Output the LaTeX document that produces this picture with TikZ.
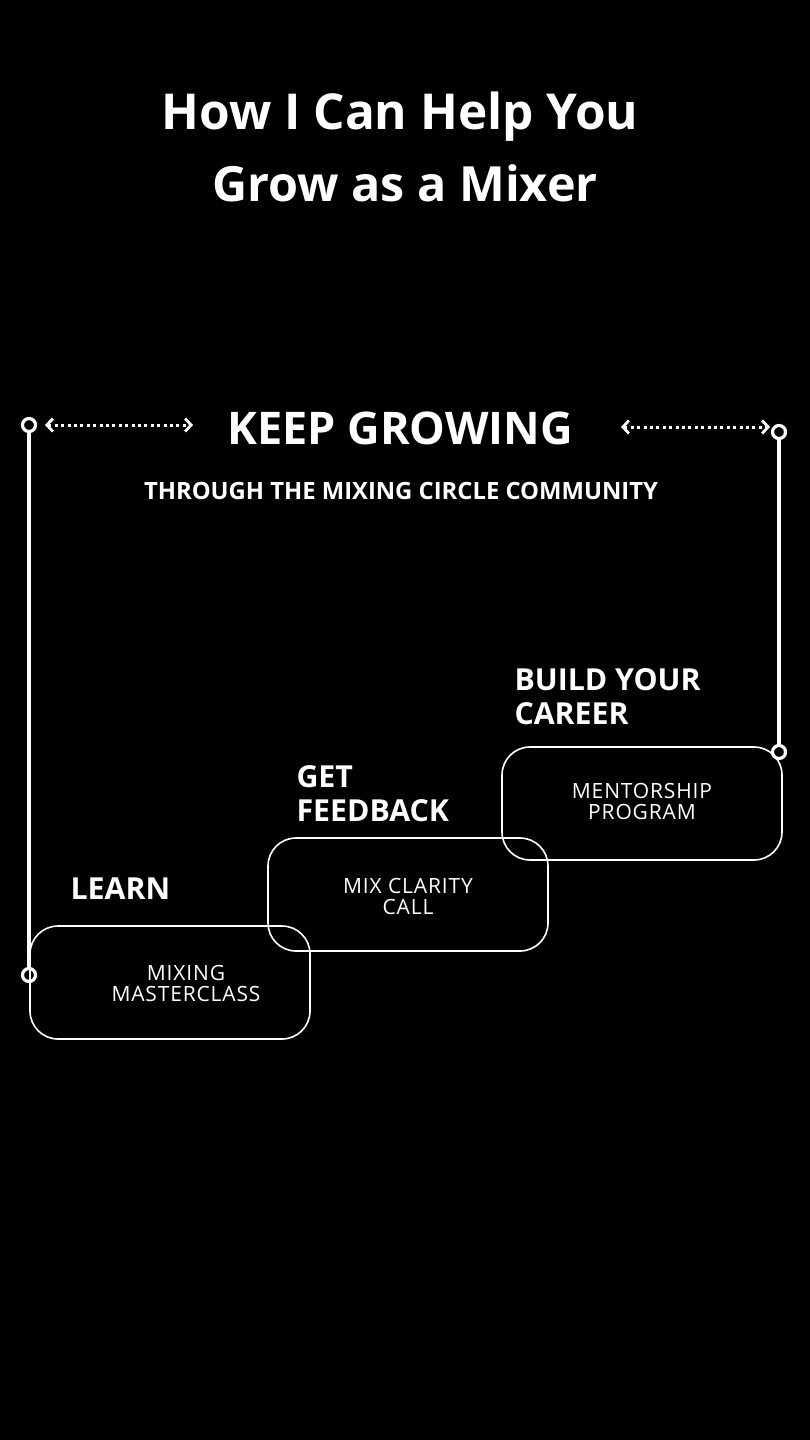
\documentclass[tikz,border=0pt]{standalone}
\usepackage{fontspec}
\setmainfont{Open Sans}
\usetikzlibrary{arrows.meta}
\begin{document}
\begin{tikzpicture}[x=1pt,y=-1pt,
  every node/.style={text=white},
  dot/.style={circle,draw=white,line width=3.2pt,minimum size=13pt,inner sep=0pt},
  vline/.style={draw=white,line width=3.4pt},
  darrow/.style={draw=white,line width=3pt,dash pattern=on 3pt off 3.4pt,
     {Straight Barb[length=6pt,width=13pt,line width=2.8pt]}-{Straight Barb[length=6pt,width=13pt,line width=2.8pt]}},
  stepbox/.style={draw=white,line width=1.6pt,rounded corners=28pt,minimum width=280pt,minimum height=113pt,inner sep=0pt},
  boxtext/.style={font=\fontsize{21}{21}\selectfont\addfontfeature{LetterSpace=4},align=center},
  steplabel/.style={font=\fontsize{30.3}{34}\selectfont\bfseries,align=left,anchor=west},
  title/.style={font=\fontsize{49.5}{70}\selectfont\bfseries,align=center}
]
\fill[black] (0,0) rectangle (810,1440);
\useasboundingbox (0,0) rectangle (810,1440);

\node[title] (t1) at (400,117) {How I Can Help You};
\node[title, font=\fontsize{48.5}{70}\selectfont\bfseries] (t2) at (405,183) {Grow as a Mixer};

\node[font=\fontsize{45}{50}\selectfont\bfseries] (kg) at (400,428) {KEEP GROWING};
\node[font=\fontsize{23.8}{26}\selectfont\bfseries] (sub) at (401,491) {THROUGH THE MIXING CIRCLE COMMUNITY};

% circles and vertical lines
\node[dot] (cl1) at (29,425) {};
\node[dot] (cl2) at (29,975) {};
\node[dot] (cr1) at (779,432) {};
\node[dot] (cr2) at (779,752) {};
\draw[vline] (cl1) -- (cl2);
\draw[vline] (cr1) -- (cr2);

% dotted arrows
\coordinate (al1) at (45,425);
\coordinate (al2) at (193,425);
\coordinate (ar1) at (621,427);
\coordinate (ar2) at (770,427);
\draw[darrow] (al1) -- (al2);
\draw[darrow] (ar1) -- (ar2);

% boxes
\node[stepbox] (b1) at (170,982.5) {};
\node[stepbox] (b2) at (408,894.5) {};
\node[stepbox] (b3) at (642,803.5) {};

\node[boxtext] (bt1) at (186,983) {MIXING\\MASTERCLASS};
\node[boxtext] (bt2) at (408,896) {MIX CLARITY\\CALL};
\node[boxtext] (bt3) at (642,801) {MENTORSHIP\\PROGRAM};

% labels
\node[steplabel] (l1) at (67,889) {LEARN};
\node[steplabel] (l2) at (293,794) {GET\\FEEDBACK};
\node[steplabel] (l3) at (511,697) {BUILD YOUR\\CAREER};
\end{tikzpicture}
\end{document}
